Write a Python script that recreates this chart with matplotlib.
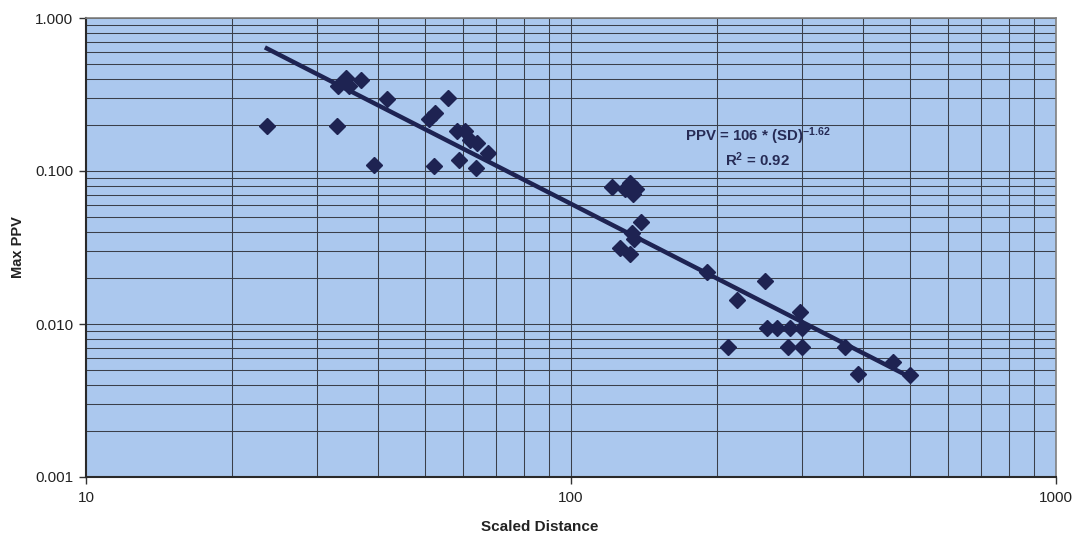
import numpy as np
import matplotlib

matplotlib.use('Agg')
import matplotlib.pyplot as plt
from matplotlib.ticker import LogLocator, NullFormatter

plt.rcParams['font.family'] = ['Liberation Sans', 'DejaVu Sans']
plt.rcParams['mathtext.default'] = 'regular'

# scaled distance vs peak particle velocity
sd = [23.6, 33.0, 34.3, 33.1, 34.8, 36.9, 41.7, 39.3,
      55.7, 52.5, 50.9, 58.1, 60.4, 61.9, 63.9, 67.3, 52.2, 58.7, 63.7,
      121.3, 132.3, 134.3, 129.1, 136.2, 139.3, 133.9, 126.2, 132.4, 135.0,
      190.5, 251.3, 219.8, 296.6, 253.3, 265.5, 282.8, 299.0,
      210.5, 280.5, 299.0, 367.4, 461.8, 390.0, 500.0]
ppv = [0.197, 0.197, 0.407, 0.359, 0.359, 0.394, 0.294, 0.109,
       0.301, 0.240, 0.219, 0.183, 0.183, 0.160, 0.153, 0.132, 0.108, 0.118, 0.104,
       0.0786, 0.0835, 0.0707, 0.0763, 0.0763, 0.0464, 0.0395, 0.0315, 0.0285, 0.036,
       0.0220, 0.0191, 0.0143, 0.0120, 0.00946, 0.00946, 0.00946, 0.00946,
       0.00708, 0.00708, 0.00708, 0.00708, 0.00565, 0.00469, 0.00464]

# power-law fit shown on the chart
coef = 106
expo = -1.62
r2 = 0.92

navy = '#1e2352'

fig = plt.figure(figsize=(10.72, 5.36), dpi=100)
ax = fig.add_axes([86 / 1072, 1 - 477 / 536, 970 / 1072, 459 / 536])
ax.set_facecolor('#abc8ee')

ax.set_xscale('log')
ax.set_yscale('log')
ax.set_xlim(10, 1000)
ax.set_ylim(0.001, 1.0)

ax.xaxis.set_minor_locator(LogLocator(base=10, subs=np.arange(2, 10)))
ax.yaxis.set_minor_locator(LogLocator(base=10, subs=np.arange(2, 10)))
ax.xaxis.set_minor_formatter(NullFormatter())
ax.yaxis.set_minor_formatter(NullFormatter())
ax.set_xticks([10, 100, 1000])
ax.set_xticklabels(['10', '100', '1000'])
ax.set_yticks([0.001, 0.01, 0.1, 1.0])
ax.set_yticklabels(['0.001', '0.010', '0.100', '1.000'])

ax.grid(which='both', color='#3a3f4a', linewidth=0.75)
ax.set_axisbelow(True)
ax.tick_params(which='major', direction='out', length=5, width=1, color='#333333',
               labelsize=11, labelcolor='#222222')
ax.tick_params(axis='y', pad=4)
ax.tick_params(axis='x', pad=5)
ax.tick_params(which='minor', length=0)

for side in ['top', 'right']:
    ax.spines[side].set_color('#808080')
    ax.spines[side].set_linewidth(1.2)
for side in ['left', 'bottom']:
    ax.spines[side].set_color('#2a2a2a')
    ax.spines[side].set_linewidth(1.5)

ax.plot(sd, ppv, linestyle='none', marker='D', markersize=8.5,
        color=navy, zorder=3)

xfit = np.array([min(sd), max(sd)])
ax.plot(xfit, coef * xfit ** expo, color=navy, linewidth=3.2, zorder=4)

ax.text(0.692, 0.743, 'PPV = %d * (SD)$^{%.2f}$' % (coef, expo), transform=ax.transAxes,
        ha='center', va='center', fontsize=10.8, fontweight='bold', color='#262b55')
ax.text(0.692, 0.691, 'R$^{2}$ = %.2f' % r2, transform=ax.transAxes,
        ha='center', va='center', fontsize=10.8, fontweight='bold', color='#262b55')

ax.set_xlabel('Scaled Distance', fontsize=11, fontweight='bold', color='#222222')
ax.set_ylabel('Max PPV', fontsize=10.5, fontweight='bold', color='#222222')
ax.xaxis.set_label_coords((540 - 86) / 970, -(527 - 477) / 459)
ax.yaxis.set_label_coords(-(86 - 18) / 970, 0.5)
ax.xaxis.label.set_va('center')
ax.yaxis.label.set_va('center')

fig.savefig('out.png', dpi=100)
